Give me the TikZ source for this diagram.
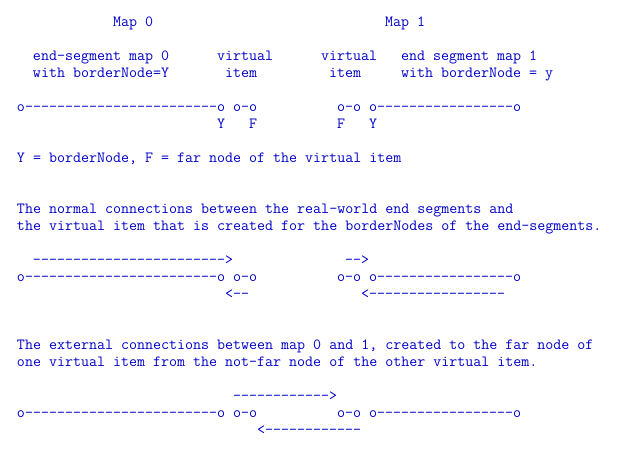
\documentclass[tikz,border=0pt]{standalone}
\usepackage{fontspec}
\usepackage{tikz}
\usetikzlibrary{positioning}
\definecolor{asciiblue}{RGB}{0,0,200}
\tikzset{
	every text node part/.style= {
		align=left
	},
	ascii/.style= {
		asciiblue,
		anchor=base west,
		inner sep=0pt,
		outer sep=0pt,
		font=\fontsize{11.66}{12.78}\selectfont\ttfamily\addfontfeatures{FakeBold=0.3}
	}
}
\frenchspacing

\begin{document}
\begin{tikzpicture}[x=6pt, y=-12.78pt]
		\useasboundingbox (-2.125,-1.526) rectangle (75.125,25.293);
		
		\node (map0)[ascii] at (12,0) {Map 0};
		\node (map1)[ascii] at (46,0) {Map 1};
		
		\node (seg0)[ascii] at (2,2) {end-segment map 0};
		\node (border0)[ascii] at (2,3) {with borderNode=Y};
		\node (virt0)[ascii] at (25,2) {virtual};
		\node (item0)[ascii] at (26,3) {item};
		\node (virt1)[ascii] at (38,2) {virtual};
		\node (item1)[ascii] at (39,3) {item};
		\node (seg1)[ascii] at (48,2) {end segment map 1};
		\node (border1)[ascii] at (48,3) {with borderNode = y};
		
		% the same row of segments, three times
		\foreach \r/\n in {5/a, 15/b, 23/c}
		{
			\node (end0\n)[ascii] at (0,\r) {o------------------------o};
			\node (vi0\n)[ascii] at (27,\r) {o-o};
			\node (vi1\n)[ascii] at (40,\r) {o-o};
			\node (end1\n)[ascii] at (44,\r) {o-----------------o};
		}
		
		\foreach[count=\i from 1] \c/\t in {25/Y, 29/F, 40/F, 44/Y}
		{
			\node (lab\i)[ascii] at (\c,6) {\t};
		}
		\node (legend)[ascii] at (0,8) {Y = borderNode, F = far node of the virtual item};
		
		\node (normal1)[ascii] at (0,11) {The normal connections between the real-world end segments and};
		\node (normal2)[ascii] at (0,12) {the virtual item that is created for the borderNodes of the end-segments.};
		\node (nto0)[ascii] at (2,14) {------------------------>};
		\node (nto1)[ascii] at (41,14) {-->};
		\node (nback0)[ascii] at (26,16) {<--};
		\node (nback1)[ascii] at (43,16) {<-----------------};
		
		\node (extern1)[ascii] at (0,19) {The external connections between map 0 and 1, created to the far node of};
		\node (extern2)[ascii] at (0,20) {one virtual item from the not-far node of the other virtual item.};
		\node (eto)[ascii] at (27,22) {------------>};
		\node (eback)[ascii] at (30,24) {<------------};
	\end{tikzpicture}
\end{document}
